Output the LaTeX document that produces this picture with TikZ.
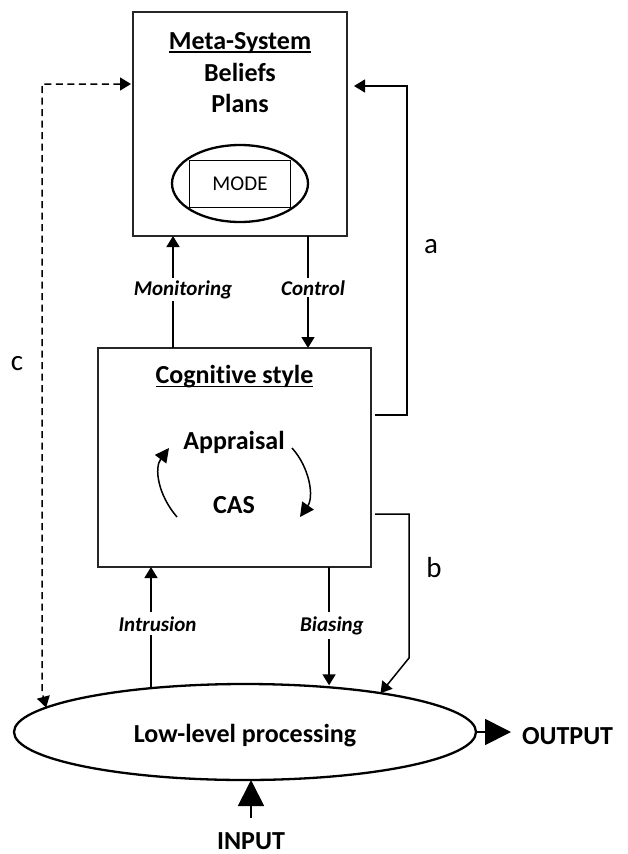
\documentclass[tikz,border=0pt]{standalone}
\usepackage{fontspec}
\setmainfont{Carlito}[Ligatures=NoCommon]
\usetikzlibrary{arrows.meta,calc,shapes.geometric}

\begin{document}
\begin{tikzpicture}[x=1pt,y=-1pt,
  every node/.style={inner sep=0pt, outer sep=0pt},
  box/.style={draw=black!85, line width=1.3pt, rectangle},
  oval/.style={draw, line width=2.3pt, ellipse},
  link/.style={line width=1.5pt, -{Triangle[length=11pt,width=13pt]}},
  cyclelink/.style={line width=1.5pt, -{Triangle[length=14pt,width=14pt]}},
  biglink/.style={line width=1.8pt, -{Triangle[length=26pt,width=26pt]}},
  title/.style={font=\fontsize{26}{30}\selectfont\bfseries, anchor=base},
  tag/.style={font=\fontsize{21}{24}\selectfont\bfseries\itshape, anchor=base,
              fill=white, inner xsep=1pt},
  letter/.style={font=\fontsize{29}{32}\selectfont, anchor=base},
  uline/.style={line width=1.3pt}
]
\useasboundingbox (0,0) rectangle (628,854);

% ---- boxes and ovals
\node[box, minimum width=214pt, minimum height=224pt] (meta) at (240,124) {};
\node[box, minimum width=273pt, minimum height=219pt] (cog) at (234.5,457.5) {};
\node[oval, minimum width=136pt, minimum height=77pt] (modeoval) at (240,183.5) {};
\node[draw, line width=1.2pt, minimum width=101pt, minimum height=47pt,
      font=\fontsize{21}{24}\selectfont] (mode) at (240,184) {MODE};
\node[oval, minimum width=462pt, minimum height=96pt] (low) at (245,732) {};

% ---- texts inside the boxes
\node[title] (metatitle) at (240,49) {Meta-System};
\draw[uline] ([yshift=-3pt]metatitle.base west) -- ([yshift=-3pt]metatitle.base east);
\node[title] (beliefs) at (240,81) {Beliefs};
\node[title] (plans) at (240,112) {Plans};

\node[title] (cogtitle) at (234.5,383) {Cognitive style};
\draw[uline] ([yshift=-3.5pt]cogtitle.base west) -- ([yshift=-3.5pt]cogtitle.base east);
\node[title] (appraisal) at (234,449) {Appraisal};
\node[title] (cas) at (234,513) {CAS};

\node[title] (lowtext) at (245,742) {Low-level processing};
\node[title, anchor=base west] (out) at (522,744) {OUTPUT};
\node[title] (inp) at (251,849) {INPUT};

% ---- reference coordinates for connector routes
\coordinate (xmon) at (173,0);
\coordinate (xctl) at (308,0);
\coordinate (aX) at (407,0);
\coordinate (aY) at (0,415);
\coordinate (aTop) at (0,86);
\coordinate (bX) at (409,0);
\coordinate (bY) at (0,514);
\coordinate (bBend) at (0,658);
\coordinate (cTop) at (42,84);
\coordinate (cBend) at (42,692);

% ---- vertical connectors between levels
\draw[link] (xmon |- cog.north) -- (xmon |- meta.south);
\draw[link] (xctl |- meta.south) -- (xctl |- cog.north);
\draw[link] (low.155) -- (low.155 |- cog.south);
\draw[link, shorten >=2pt] (low.28.4 |- cog.south) -- (low.28.4);

% ---- Appraisal / CAS cycle
\draw[cyclelink] (177,517) .. controls (158,495) and (154,468) .. (169,448);
\draw[cyclelink] (292,448) .. controls (310,468) and (314,497) .. (300,517);

% ---- feedback routes a, b, c
\draw[link, shorten >=7pt] ($(cog.east |- aY)+(4,0)$) -- (aX |- aY) -- (aX |- aTop) -- (meta.east |- aTop);
\draw[link] ($(cog.east |- bY)+(4,0)$) -- (bX |- bY) -- (bX |- bBend) -- (low.16);
\draw[line width=1.5pt, dash pattern=on 7pt off 4.5pt,
      {Triangle[length=11pt,width=13pt]}-{Triangle[length=11pt,width=13pt]}, shorten <=2pt]
  (meta.west |- cTop) -- (cTop) -- (cBend) -- (low.173);

% ---- input and output
\draw[biglink, shorten >=11pt] (low.east) -- (low.east -| out.west);
\draw[biglink, shorten <=14pt] (inp.north) -- (inp.north |- low.south);

% ---- connector labels
\node[tag, inner ysep=2pt] (monlbl) at (183,295) {Monitoring};
\node[tag, inner ysep=2pt, anchor=base east] (ctllbl) at (346,295) {Control};
\node[tag, inner ysep=4pt] (intlbl) at (157.5,631) {Intrusion};
\node[tag, inner ysep=4pt] (biaslbl) at (332,631) {Biasing};

\node[letter] (alabel) at (431,253) {a};
\node[letter] (blabel) at (434,577) {b};
\node[letter] (clabel) at (17,370) {c};
\end{tikzpicture}
\end{document}
